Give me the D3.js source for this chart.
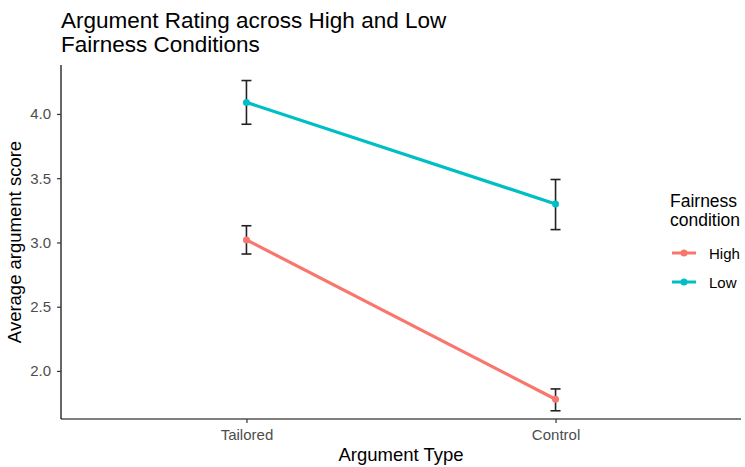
<!DOCTYPE html>
<html><head><meta charset="utf-8">
<script src="https://cdn.jsdelivr.net/npm/d3@7"></script>
<style>body{margin:0;background:#fff;} text{font-family:"Liberation Sans",Arial,sans-serif;}</style>
</head><body><svg id="c" width="745" height="467"></svg>
<script>
const categories = ["Tailored", "Control"];
const seriesNames = ["High", "Low"];
const highMean = [3.02, 1.78];
const highLower = [2.91, 1.69];
const highUpper = [3.13, 1.86];
const lowMean = [4.09, 3.30];
const lowLower = [3.92, 3.10];
const lowUpper = [4.26, 3.49];
const yTicks = [2.0, 2.5, 3.0, 3.5, 4.0];
const colors = ["#F8766D", "#00BFC4"];

const series = [
  {name: seriesNames[0], mean: highMean, lo: highLower, hi: highUpper, color: colors[0]},
  {name: seriesNames[1], mean: lowMean, lo: lowLower, hi: lowUpper, color: colors[1]}
];

const svg = d3.select("#c");
const L = 61, R = 741, T = 65, B = 419;
const y = d3.scaleLinear().domain([1.626, 4.381]).range([B, T]);
const x = d3.scalePoint().domain(categories).range([L, R]).padding(0.6);

// axes
const yAxis = svg.append("g").attr("transform", `translate(${L},0)`)
  .call(d3.axisLeft(y).tickValues(yTicks).tickFormat(d3.format(".1f")).tickSize(4).tickPadding(6).tickSizeOuter(0));
const xAxis = svg.append("g").attr("transform", `translate(0,${B})`)
  .call(d3.axisBottom(x).tickSize(4).tickPadding(6).tickSizeOuter(0));
[yAxis, xAxis].forEach(g => {
  g.select(".domain").attr("stroke", "#000").attr("stroke-width", 1.2);
  g.selectAll(".tick line").attr("stroke", "#333").attr("stroke-width", 1.2);
  g.selectAll(".tick text").attr("fill", "#4d4d4d").style("font-size", "15px").style("font-family", "Liberation Sans, Arial, sans-serif");
});
yAxis.select(".domain").attr("d", `M0,${B}V${T}`);
xAxis.select(".domain").attr("d", `M${L},0H${R}`);

const line = d3.line().x((d, i) => x(categories[i])).y(d => y(d));
series.forEach(s => {
  svg.append("path").datum(s.mean).attr("d", line).attr("fill", "none")
    .attr("stroke", s.color).attr("stroke-width", 3.2);
});
series.forEach(s => {
  s.mean.forEach((m, i) => {
    const cx = x(categories[i]);
    const g = svg.append("g").attr("stroke", "#222").attr("stroke-width", 1.6);
    g.append("line").attr("x1", cx).attr("x2", cx).attr("y1", y(s.lo[i])).attr("y2", y(s.hi[i]));
    g.append("line").attr("x1", cx - 5).attr("x2", cx + 5).attr("y1", y(s.lo[i])).attr("y2", y(s.lo[i]));
    g.append("line").attr("x1", cx - 5).attr("x2", cx + 5).attr("y1", y(s.hi[i])).attr("y2", y(s.hi[i]));
    svg.append("circle").attr("cx", cx).attr("cy", y(m)).attr("r", 3.5).attr("fill", s.color);
  });
});

// titles
svg.append("text").attr("x", 61).attr("y", 28).style("font-size", "22.5px").attr("fill", "#000").text("Argument Rating across High and Low");
svg.append("text").attr("x", 61).attr("y", 52).style("font-size", "22.5px").attr("fill", "#000").text("Fairness Conditions");
svg.append("text").attr("x", (L + R) / 2).attr("y", 461).attr("text-anchor", "middle").style("font-size", "18.5px").text("Argument Type");
svg.append("text").attr("transform", `translate(21,${(T + B) / 2}) rotate(-90)`).attr("text-anchor", "middle").style("font-size", "18.5px").text("Average argument score");

// legend
svg.append("text").attr("x", 670).attr("y", 207).style("font-size", "17.5px").text("Fairness");
svg.append("text").attr("x", 670).attr("y", 226).style("font-size", "17.5px").text("condition");
series.forEach((s, i) => {
  const ky = 253 + i * 29;
  svg.append("line").attr("x1", 672).attr("x2", 696).attr("y1", ky).attr("y2", ky).attr("stroke", s.color).attr("stroke-width", 3);
  svg.append("circle").attr("cx", 684).attr("cy", ky).attr("r", 3.5).attr("fill", s.color);
  svg.append("text").attr("x", 709).attr("y", ky + 6).style("font-size", "15px").attr("fill", "#000").text(s.name);
});
</script></body></html>
